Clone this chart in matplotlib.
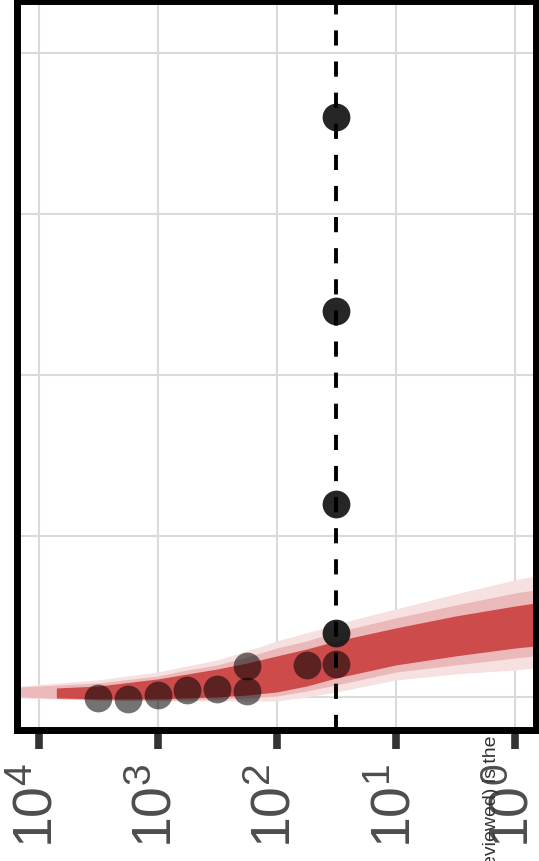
import numpy as np
import matplotlib
matplotlib.use("Agg")
import matplotlib.pyplot as plt
from matplotlib.ticker import NullLocator

plt.rcParams['font.family'] = ['Liberation Sans', 'DejaVu Sans']

# x positions are log10 values on the reversed log axis
point_logx = [3.5, 3.25, 3.0, 2.75, 2.5, 2.25, 2.25, 1.75, 1.5]
point_y = [-0.4, -1.4, 1.1, 4.3, 5.0, 3.9, 19.3, 19.9, 20.3]
dark_logx = [1.5, 1.5, 1.5, 1.5]
dark_y = [39.5, 120, 240, 360]
ref_logx = 1.5

band_logx = [4.15, 3.5, 3.0, 2.75, 2.5, 2.25, 2.0, 1.75, 1.5, 1.0, 0.5, 0.0, -0.17]
pale_top = [6.8, 10.6, 15.5, 19.3, 23.0, 28.6, 34.8, 39.8, 45.3, 54.7, 64.0, 72.7, 75.2]
pale_bot = [-0.6, -1.9, -2.5, -2.5, -2.5, -2.5, -2.5, 0.0, 3.1, 10.6, 14.3, 16.8, 18.0]
mid_top = [6.2, 8.7, 13.0, 16.8, 19.9, 24.8, 30.4, 34.8, 40.4, 49.1, 57.1, 64.6, 66.5]
mid_bot = [0.0, -1.9, -1.9, -1.9, -1.2, -0.6, 0.6, 3.7, 7.5, 15.5, 19.9, 24.2, 25.5]
core_logx = [3.85, 3.5, 3.0, 2.75, 2.5, 2.25, 2.0, 1.75, 1.5, 1.0, 0.5, 0.0, -0.17]
core_top = [5.6, 6.8, 11.2, 14.3, 17.4, 21.1, 25.5, 29.8, 34.8, 42.9, 50.3, 56.5, 58.4]
core_bot = [-0.6, -1.2, -1.2, -0.6, 0.0, 1.2, 3.1, 6.8, 11.8, 19.9, 25.5, 30.4, 31.7]

tick_exp = [4, 3, 2, 1, 0]
tick_labels = [r'$\mathdefault{10^{%d}}$' % e for e in tick_exp]
y_grid = [0, 100, 200, 300, 400]
caption = "eviewed) is the"

fig = plt.figure(figsize=(5.39, 8.61), dpi=100)
ax = fig.add_axes([17/539, 1 - 729.5/861, (536 - 17)/539, (729.5 - 0.5)/861])
ax.set_xscale('log')
ax.set_xlim(10**4.1805, 10**-0.1763)
ax.set_ylim(-20.2, 432.6)

ax.set_xticks([10.0**e for e in tick_exp])
ax.set_xticklabels(tick_labels, rotation=90, fontsize=40, color='#4d4d4d')
ax.xaxis.set_minor_locator(NullLocator())
ax.set_yticks(y_grid)
ax.tick_params(axis='y', left=False, labelleft=False)
ax.tick_params(axis='x', direction='out', length=13.5, width=5.5,
               color='#333333', pad=11)
ax.grid(color='#dadada', lw=1.5)
ax.set_axisbelow(True)
for s in ax.spines.values():
    s.set_linewidth(5)
    s.set_color('black')

bx = 10**np.array(band_logx)
ax.fill_between(bx, pale_bot, pale_top, color='#f6e0e0', lw=0, zorder=2)
ax.fill_between(bx, mid_bot, mid_top, color='#ebb9b9', lw=0, zorder=2)
ax.fill_between(10**np.array(core_logx), core_bot, core_top,
                color='#cd4b4b', lw=0, zorder=2)

ax.scatter(10**np.array(point_logx), point_y, s=400, color='black',
           alpha=0.55, lw=0, zorder=3)
ax.scatter(10**np.array(dark_logx), dark_y, s=400, color='#1a1a1a',
           alpha=0.95, lw=0, zorder=4)

ax.axvline(10**ref_logx, color='black', lw=2.8, ls=(0, (3.9, 4.1)), zorder=5)

fig.text(491/539, 1 - 735/861, caption, rotation=90, rotation_mode='anchor',
         ha='right', va='center', fontsize=14, color='#333333')

fig.savefig('out.png', dpi=100)
